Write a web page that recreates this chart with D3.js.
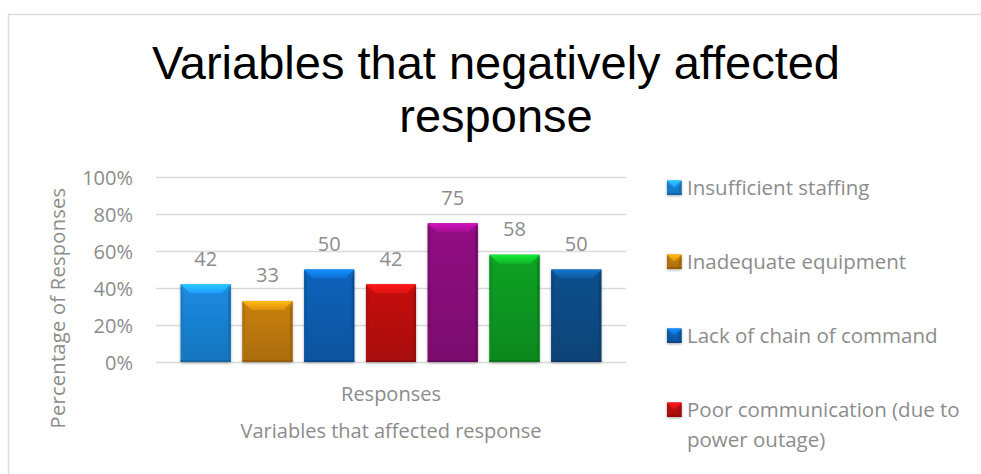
<!DOCTYPE html>
<html><head><meta charset="utf-8">
<script src="https://cdn.jsdelivr.net/npm/d3@7"></script>
<style>
html,body{margin:0;padding:0;background:#fff;overflow:hidden;}
svg{display:block;}
</style></head><body>
<svg id="chart" width="981" height="474"></svg>
<script>
// ---- data ----
const titleLines = ["Variables that negatively affected", "response"];
const categories = ["Responses"];
const values = [42, 33, 50, 42, 75, 58, 50];
const barColors = ["#1a84d6", "#bf7a0c", "#0b5eb2", "#bd0f0f", "#8a0c7c", "#0c9a22", "#0e4c86"];
const legendLabels = [
  ["Insufficient staffing"],
  ["Inadequate equipment"],
  ["Lack of chain of command"],
  ["Poor communication (due to", "power outage)"]
];
const yTicks = [0, 20, 40, 60, 80, 100];
const xTitle = "Variables that affected response";
const yTitle = "Percentage of Responses";

// ---- layout ----
const svg = d3.select("#chart");
const W = 981, H = 474;
const plot = {left: 156, right: 626, top: 177, bottom: 362};
const textGray = "#8c8c8c";
const uiFont = "'Open Sans', 'Noto Sans', sans-serif";

svg.append("rect").attr("width", W).attr("height", H).attr("fill", "#fff");
svg.append("rect").attr("x", 8.5).attr("y", 14.5).attr("width", 1200).attr("height", 800)
  .attr("fill", "none").attr("stroke", "#dcdcdc").attr("stroke-width", 1.5);

const defs = svg.append("defs");
const shadow = defs.append("filter").attr("id", "shadow").attr("x", "-20%").attr("y", "-20%").attr("width", "140%").attr("height", "140%");
shadow.append("feDropShadow").attr("dx", 0).attr("dy", 1).attr("stdDeviation", 1.6)
  .attr("flood-color", "#000").attr("flood-opacity", 0.35);

// title
const title = svg.append("text").attr("text-anchor", "middle")
  .attr("font-family", "'Liberation Sans', Arial, sans-serif").attr("font-size", 47).attr("fill", "#000");
titleLines.forEach((t, i) => {
  title.append("tspan").attr("x", 496).attr("y", 79 + i * 53).text(t);
});

// scales
const y = d3.scaleLinear().domain([0, 100]).range([plot.bottom, plot.top]);
const x0 = d3.scaleBand().domain(categories).range([plot.left, plot.right]);
const x1 = d3.scaleBand().domain(d3.range(values.length)).range([0, x0.bandwidth()])
  .paddingInner(0.19).paddingOuter(0.40);

// y axis with gridlines
const yAxis = svg.append("g").attr("transform", `translate(${plot.left},0)`)
  .call(d3.axisLeft(y).tickValues(yTicks).tickFormat(d => d + "%")
    .tickSize(-(plot.right - plot.left)).tickPadding(23));
yAxis.select(".domain").remove();
yAxis.selectAll(".tick line").attr("stroke", "#d9d9d9").attr("stroke-width", 1.5);
yAxis.selectAll(".tick text").attr("fill", textGray).attr("font-family", uiFont)
  .attr("font-size", 20).attr("dy", "0.38em");

// x axis
const xAxis = svg.append("g").attr("transform", `translate(0,${plot.bottom})`)
  .call(d3.axisBottom(x0).tickSize(0).tickPadding(25));
xAxis.select(".domain").remove();
xAxis.selectAll(".tick text").attr("fill", textGray).attr("font-family", uiFont).attr("font-size", 20);

// axis titles
svg.append("text").attr("x", (plot.left + plot.right) / 2).attr("y", 438)
  .attr("text-anchor", "middle").attr("fill", textGray).attr("font-family", uiFont)
  .attr("font-size", 20).text(xTitle);
svg.append("text").attr("transform", `translate(65,308) rotate(-90)`)
  .attr("text-anchor", "middle").attr("fill", textGray).attr("font-family", uiFont)
  .attr("font-size", 20).attr("letter-spacing", 0.3).text(yTitle);

// gradients for bevel look
barColors.forEach((c, i) => {
  const g = defs.append("linearGradient").attr("id", "face" + i).attr("x1", 0).attr("y1", 0).attr("x2", 0).attr("y2", 1);
  g.append("stop").attr("offset", "0%").attr("stop-color", d3.color(c).brighter(0.15));
  g.append("stop").attr("offset", "100%").attr("stop-color", d3.color(c).darker(0.35));
  const t = defs.append("linearGradient").attr("id", "top" + i).attr("x1", 0).attr("y1", 0).attr("x2", 0).attr("y2", 1);
  t.append("stop").attr("offset", "0%").attr("stop-color", d3.color(c).brighter(1.2));
  t.append("stop").attr("offset", "100%").attr("stop-color", d3.color(c).brighter(0.45));
});

function bevel(g, x, yTop, w, h, i, b) {
  const c = d3.color(barColors[i]);
  g.append("rect").attr("x", x).attr("y", yTop).attr("width", w).attr("height", h)
    .attr("fill", `url(#face${i})`).attr("filter", "url(#shadow)");
  // side edges
  g.append("polygon").attr("points", [[x, yTop], [x + 2.5, yTop + b], [x + 2.5, yTop + h], [x, yTop + h]].join(" "))
    .attr("fill", c.darker(0.25));
  g.append("polygon").attr("points", [[x + w, yTop], [x + w - 2.5, yTop + b], [x + w - 2.5, yTop + h], [x + w, yTop + h]].join(" "))
    .attr("fill", c.darker(0.55));
  g.append("rect").attr("x", x).attr("y", yTop + h - 2).attr("width", w).attr("height", 2)
    .attr("fill", c.darker(0.7));
  // top bevel
  g.append("polygon").attr("points", [[x, yTop], [x + w, yTop], [x + w - b, yTop + b], [x + b, yTop + b]].join(" "))
    .attr("fill", `url(#top${i})`);
}

// bars
const barsG = svg.append("g");
values.forEach((v, i) => {
  const bx = x0(categories[0]) + x1(i);
  const by = y(v);
  bevel(barsG, bx, by, x1.bandwidth(), y(0) - by, i, 9);
});

// data labels
svg.append("g").selectAll("text").data(values).join("text")
  .attr("x", (d, i) => x0(categories[0]) + x1(i) + x1.bandwidth() / 2)
  .attr("y", d => y(d) - 18.5)
  .attr("text-anchor", "middle").attr("fill", textGray).attr("font-family", uiFont)
  .attr("font-size", 20).text(d => d);

// legend
const leg = svg.append("g");
legendLabels.forEach((lines, i) => {
  const base = 195 + i * 74;
  const gi = leg.append("g");
  bevel(gi, 667, base - 14.5, 14.5, 14.5, i, 7);
  const t = gi.append("text").attr("fill", textGray).attr("font-family", uiFont).attr("font-size", 20.5);
  lines.forEach((l, j) => t.append("tspan").attr("x", 687).attr("y", base + j * 29.5).text(l));
});
</script>
</body></html>
